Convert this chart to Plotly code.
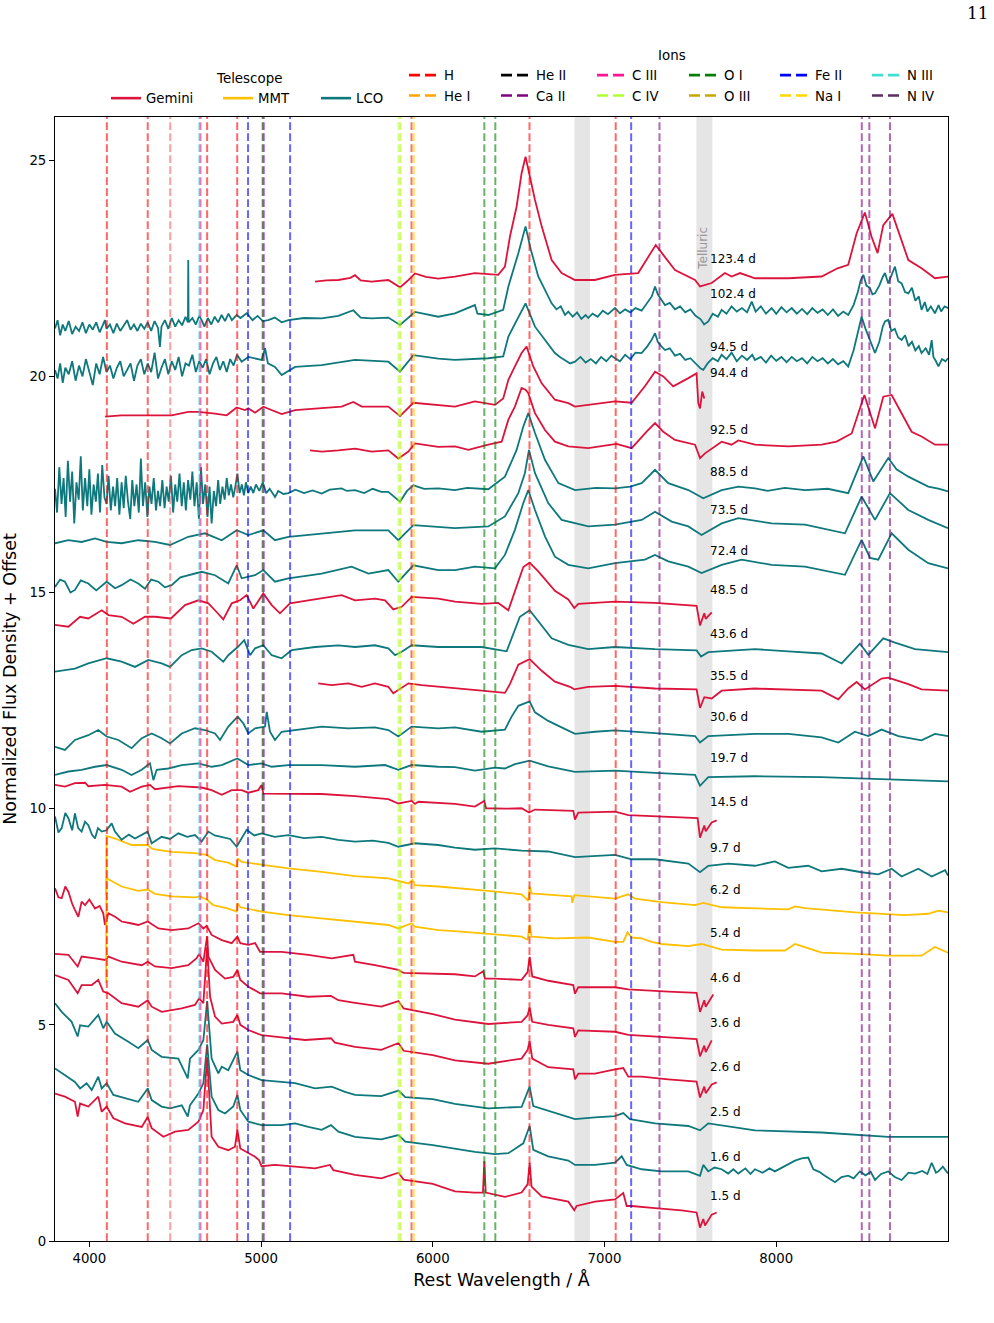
import plotly.graph_objects as go

# ------------------------------------------------------------------ data
# each spectrum: list of (rest wavelength [A], normalized flux density + offset)
sp_1_5 = [(3800,3.41),(3858,3.34),(3916,3.22),(3932,2.88),(3946,3.18),(3994,3.11),(4052,3.34),(4072,2.99),(4101,3.11),(4140,2.84),(4208,2.72),(4305,2.64),(4340,2.87),(4363,2.61),(4431,2.41),(4499,2.53),(4576,2.57),(4635,2.76),(4664,3.03),(4686,4.25),(4712,2.41),(4751,2.18),(4809,2.10),(4848,2.18),(4862,2.57),(4879,2.14),(4965,1.95),(4988,1.87),(5003,1.73),(5081,1.76),(5198,1.72),(5314,1.68),(5401,1.76),(5421,1.64),(5547,1.53),(5700,1.45),(5800,1.58),(5830,1.42),(6000,1.32),(6129,1.15),(6245,1.12),(6292,1.12),(6300,1.85),(6308,1.12),(6420,1.02),(6517,1.12),(6552,1.31),(6564,1.81),(6575,1.26),(6634,1.03),(6789,0.91),(6824,0.71),(6837,0.81),(6944,0.91),(7061,0.96),(7109,1.11),(7129,0.81),(7158,0.81),(7294,0.76),(7449,0.71),(7536,0.66),(7556,0.31),(7575,0.51),(7585,0.36),(7624,0.61),(7653,0.66)]
sp_1_6 = [(3800,3.99),(3858,3.84),(3916,3.68),(3946,3.53),(3984,3.65),(4014,3.49),(4052,3.80),(4072,3.53),(4101,3.65),(4140,3.38),(4208,3.30),(4285,3.22),(4340,3.53),(4363,3.26),(4421,3.11),(4470,3.07),(4538,3.14),(4573,2.88),(4586,3.14),(4635,3.41),(4664,3.65),(4686,4.55),(4712,3.34),(4751,3.03),(4790,2.95),(4838,3.11),(4862,3.38),(4879,3.03),(4926,2.76),(5003,2.68),(5120,2.68),(5198,2.72),(5275,2.64),(5353,2.57),(5407,2.68),(5450,2.53),(5547,2.41),(5700,2.35),(5800,2.45),(5840,2.30),(6000,2.22),(6129,2.13),(6245,2.06),(6362,2.01),(6440,2.03),(6527,2.26),(6564,2.66),(6585,2.11),(6672,1.96),(6789,1.86),(6828,1.76),(6944,1.76),(7061,1.81),(7100,1.96),(7129,1.76),(7216,1.66),(7332,1.61),(7488,1.61),(7556,1.51),(7575,1.76),(7604,1.61),(7640,1.70),(7682,1.66),(7720,1.56),(7750,1.66),(7779,1.56),(7820,1.68),(7850,1.55),(7876,1.66),(7920,1.58),(7960,1.68),(7992,1.61),(8040,1.72),(8080,1.80),(8109,1.86),(8148,1.91),(8186,1.93),(8216,1.66),(8250,1.60),(8283,1.51),(8310,1.45),(8342,1.36),(8380,1.48),(8419,1.51),(8450,1.45),(8487,1.61),(8520,1.52),(8550,1.60),(8575,1.41),(8610,1.55),(8652,1.61),(8690,1.48),(8730,1.41),(8770,1.58),(8808,1.56),(8850,1.62),(8880,1.55),(8905,1.81),(8930,1.58),(8944,1.61),(8970,1.72),(9000,1.56)]
sp_2_5 = [(3800,5.50),(3839,5.30),(3897,5.07),(3932,4.73),(3946,4.99),(3994,4.96),(4052,5.23),(4081,4.92),(4101,5.07),(4149,4.80),(4227,4.61),(4285,4.46),(4340,4.65),(4363,4.42),(4421,4.26),(4518,4.22),(4573,3.76),(4586,4.22),(4635,4.42),(4664,4.65),(4686,5.55),(4712,4.22),(4751,3.88),(4771,4.03),(4809,3.95),(4862,4.38),(4879,3.95),(4926,3.84),(5003,3.72),(5120,3.68),(5198,3.65),(5314,3.53),(5411,3.57),(5489,3.45),(5547,3.38),(5700,3.35),(5800,3.48),(5840,3.33),(6000,3.28),(6129,3.17),(6323,3.07),(6517,3.10),(6564,3.57),(6585,3.12),(6711,2.96),(6828,2.82),(6944,2.86),(7061,2.89),(7109,2.96),(7148,2.82),(7294,2.72),(7488,2.66),(7556,2.56),(7604,2.72),(7876,2.56),(8264,2.51),(8652,2.41),(9000,2.41)]
sp_2_6 = [(3800,6.15),(3878,6.04),(3932,5.73),(3955,5.92),(4014,5.92),(4052,6.04),(4081,5.77),(4111,5.73),(4188,5.50),(4285,5.42),(4340,5.57),(4363,5.42),(4421,5.30),(4538,5.38),(4615,5.46),(4639,5.61),(4664,5.50),(4686,6.80),(4703,5.65),(4732,5.19),(4771,5.03),(4838,5.07),(4862,5.23),(4879,5.00),(4926,4.88),(5003,4.76),(5120,4.71),(5256,4.65),(5407,4.69),(5430,4.59),(5547,4.49),(5700,4.42),(5800,4.58),(5830,4.40),(6000,4.30),(6129,4.18),(6323,4.10),(6517,4.22),(6552,4.42),(6564,4.62),(6579,4.22),(6672,4.02),(6818,3.97),(6828,3.74),(6847,3.87),(6944,3.87),(7061,3.97),(7109,4.00),(7138,3.80),(7216,3.80),(7371,3.74),(7536,3.69),(7556,3.32),(7581,3.57),(7589,3.42),(7624,3.62),(7653,3.67)]
sp_3_6 = [(3800,6.64),(3878,6.62),(3932,6.35),(3955,6.58),(4033,6.54),(4091,6.50),(4111,6.58),(4188,6.46),(4305,6.38),(4340,6.46),(4382,6.35),(4479,6.31),(4576,6.38),(4625,6.54),(4639,6.64),(4664,6.46),(4686,7.05),(4693,6.58),(4732,6.27),(4790,6.07),(4838,6.11),(4862,6.27),(4879,6.04),(4926,5.88),(4955,5.82),(4994,5.73),(5120,5.73),(5275,5.65),(5407,5.67),(5450,5.57),(5547,5.51),(5700,5.42),(5800,5.55),(5830,5.38),(6000,5.25),(6129,5.12),(6323,5.02),(6517,5.07),(6552,5.22),(6564,5.40),(6579,5.07),(6672,5.00),(6818,4.92),(6828,4.72),(6847,4.87),(7061,4.84),(7138,4.77),(7371,4.72),(7536,4.67),(7556,4.27),(7581,4.52),(7589,4.37),(7624,4.64)]
sp_4_6 = [(3800,8.16),(3820,7.95),(3839,7.93),(3860,8.20),(3878,8.08),(3900,7.80),(3916,7.66),(3936,7.50),(3955,7.85),(3975,7.77),(4000,7.90),(4033,7.69),(4060,7.75),(4081,7.58),(4091,7.31),(4111,7.58),(4150,7.50),(4188,7.39),(4240,7.35),(4285,7.31),(4340,7.39),(4402,7.23),(4479,7.19),(4576,7.23),(4635,7.35),(4664,7.23),(4683,7.29),(4712,7.08),(4771,6.96),(4829,6.89),(4862,7.04),(4879,6.89),(4926,6.85),(4965,6.89),(4994,6.69),(5120,6.69),(5275,6.62),(5411,6.54),(5537,6.62),(5547,6.46),(5663,6.38),(5741,6.31),(5800,6.27),(5830,6.20),(6000,6.18),(6129,6.17),(6245,6.12),(6294,6.24),(6304,6.07),(6362,6.07),(6517,6.04),(6552,6.22),(6564,6.57),(6579,6.12),(6672,6.02),(6818,5.92),(6828,5.72),(6847,5.87),(7061,5.87),(7138,5.82),(7371,5.77),(7536,5.74),(7556,5.30),(7581,5.57),(7589,5.42),(7633,5.70)]
sp_5_4 = [(4098,5.97),(4100,8.39),(4188,8.20),(4285,8.10),(4340,8.13),(4382,8.03),(4479,7.97),(4615,7.95),(4644,7.97),(4683,7.90),(4722,7.77),(4809,7.69),(4858,7.62),(4864,7.81),(4879,7.72),(5003,7.62),(5159,7.54),(5353,7.46),(5547,7.39),(5741,7.31),(5799,7.23),(5877,7.35),(5896,7.27),(6032,7.19),(6129,7.17),(6323,7.10),(6517,7.04),(6552,6.97),(6564,7.32),(6575,7.04),(6711,7.00),(6905,7.02),(7061,6.92),(7109,6.92),(7134,7.14),(7158,7.02),(7216,7.00),(7274,6.92),(7332,6.87),(7488,6.82),(7565,6.87),(7682,6.74),(7876,6.72),(8051,6.72),(8109,6.87),(8148,6.82),(8186,6.77),(8264,6.67),(8458,6.64),(8652,6.60),(8846,6.60),(8924,6.80),(9000,6.67)]
sp_6_2 = [(4098,8.00),(4100,9.37),(4149,9.31),(4246,9.16),(4340,9.16),(4363,9.08),(4382,9.06),(4479,9.00),(4615,8.97),(4683,8.93),(4732,8.81),(4809,8.75),(4858,8.66),(4864,8.85),(4887,8.77),(5003,8.70),(5159,8.62),(5353,8.54),(5547,8.44),(5741,8.39),(5858,8.27),(5881,8.35),(5896,8.23),(6032,8.20),(6129,8.17),(6323,8.10),(6517,8.02),(6556,7.87),(6564,8.20),(6575,8.04),(6711,8.00),(6808,7.97),(6812,7.82),(6824,8.00),(7061,7.92),(7138,8.02),(7177,7.92),(7332,7.84),(7527,7.77),(7575,7.82),(7682,7.72),(8070,7.67),(8109,7.74),(8167,7.70),(8458,7.60),(8749,7.54),(8885,7.57),(8944,7.64),(9000,7.60)]
sp_9_7 = [(3800,9.82),(3820,9.45),(3839,9.55),(3860,9.90),(3878,9.78),(3900,9.50),(3916,9.89),(3935,9.55),(3955,9.47),(3975,9.70),(3994,9.62),(4015,9.40),(4033,9.31),(4050,9.55),(4072,9.47),(4100,9.50),(4130,9.66),(4149,9.47),(4188,9.28),(4230,9.40),(4266,9.31),(4300,9.38),(4340,9.47),(4363,9.20),(4421,9.35),(4470,9.30),(4518,9.43),(4570,9.35),(4615,9.39),(4654,9.24),(4693,9.47),(4730,9.38),(4771,9.35),(4820,9.30),(4858,9.12),(4916,9.51),(4960,9.38),(5003,9.43),(5080,9.35),(5159,9.39),(5250,9.32),(5353,9.35),(5450,9.28),(5547,9.24),(5650,9.26),(5741,9.21),(5799,9.12),(5896,9.20),(6032,9.16),(6129,9.10),(6245,9.05),(6362,9.08),(6517,9.03),(6672,9.01),(6828,8.88),(6944,8.91),(7061,8.93),(7158,8.83),(7294,8.83),(7488,8.73),(7556,8.53),(7604,8.68),(7721,8.73),(7876,8.68),(7992,8.78),(8070,8.63),(8186,8.68),(8264,8.55),(8381,8.61),(8497,8.53),(8594,8.48),(8672,8.61),(8730,8.43),(8827,8.61),(8905,8.43),(8983,8.58),(9000,8.45)]
sp_14_5 = [(3800,10.55),(3858,10.51),(3916,10.59),(3975,10.60),(3994,10.52),(4091,10.55),(4188,10.51),(4237,10.39),(4305,10.51),(4353,10.55),(4382,10.45),(4518,10.52),(4654,10.49),(4712,10.43),(4771,10.32),(4829,10.43),(4887,10.43),(4926,10.37),(4984,10.43),(5003,10.55),(5013,10.35),(5159,10.35),(5353,10.34),(5547,10.29),(5741,10.22),(5799,10.12),(5877,10.18),(5896,10.11),(5916,10.16),(6129,10.11),(6245,10.05),(6300,10.18),(6310,10.01),(6420,10.00),(6517,10.01),(6560,9.91),(6595,9.98),(6818,9.95),(6828,9.75),(6847,9.91),(7061,9.93),(7138,9.85),(7371,9.81),(7542,9.78),(7556,9.33),(7581,9.61),(7589,9.48),(7624,9.68),(7653,9.73)]
sp_19_7 = [(3800,10.78),(3878,10.86),(3955,10.90),(4033,10.97),(4101,11.01),(4188,10.90),(4246,10.78),(4305,10.90),(4353,11.05),(4373,10.66),(4392,10.90),(4460,10.93),(4538,11.01),(4635,11.05),(4712,10.97),(4771,11.01),(4862,11.16),(4926,11.01),(5003,11.05),(5062,10.97),(5159,11.01),(5353,11.01),(5547,10.97),(5722,11.01),(5799,10.90),(5877,11.01),(6032,10.97),(6129,10.96),(6245,10.88),(6362,10.95),(6420,10.93),(6478,11.03),(6564,11.11),(6672,10.98),(6828,10.85),(7061,10.88),(7294,10.83),(7527,10.78),(7556,10.53),(7604,10.73),(7876,10.75),(8264,10.73),(8652,10.68),(9000,10.63)]
sp_30_6 = [(3800,11.43),(3858,11.36),(3916,11.59),(3994,11.70),(4052,11.82),(4101,11.67),(4169,11.59),(4246,11.40),(4305,11.63),(4363,11.74),(4421,11.63),(4470,11.51),(4538,11.74),(4615,11.86),(4673,11.82),(4732,11.74),(4761,11.59),(4809,11.90),(4864,12.13),(4897,11.97),(4926,11.74),(4965,11.86),(5023,11.90),(5033,12.24),(5052,11.78),(5081,11.59),(5120,11.78),(5256,11.86),(5353,11.90),(5508,11.86),(5663,11.88),(5741,11.82),(5799,11.67),(5877,11.90),(6032,11.86),(6129,11.88),(6284,11.78),(6420,11.83),(6459,12.13),(6498,12.38),(6564,12.48),(6595,12.23),(6672,12.03),(6750,11.88),(6828,11.73),(6944,11.78),(7061,11.81),(7294,11.75),(7527,11.68),(7556,11.53),(7604,11.68),(7876,11.73),(8070,11.73),(8264,11.65),(8361,11.53),(8458,11.78),(8536,11.68),(8613,11.83),(8711,11.68),(8846,11.58),(8924,11.73),(9000,11.68)]
sp_35_5 = [(5333,12.90),(5411,12.86),(5508,12.90),(5586,12.82),(5663,12.90),(5741,12.82),(5770,12.67),(5799,12.74),(5858,12.90),(5935,12.86),(6129,12.78),(6284,12.73),(6420,12.68),(6449,12.88),(6498,13.33),(6564,13.46),(6634,13.19),(6711,12.94),(6799,12.82),(6824,12.76),(6905,12.82),(7061,12.84),(7294,12.78),(7536,12.76),(7556,12.33),(7581,12.58),(7624,12.55),(7682,12.73),(7876,12.78),(8070,12.76),(8264,12.73),(8361,12.53),(8419,12.78),(8468,12.93),(8516,12.76),(8613,13.01),(8652,13.03),(8769,12.88),(8846,12.76),(9000,12.73)]
sp_43_6 = [(3800,13.17),(3878,13.21),(3916,13.24),(3994,13.36),(4101,13.48),(4188,13.40),(4266,13.28),(4343,13.44),(4421,13.36),(4470,13.28),(4538,13.55),(4596,13.67),(4654,13.71),(4712,13.63),(4780,13.40),(4809,13.55),(4864,13.74),(4902,13.90),(4936,13.55),(4965,13.71),(5013,13.78),(5062,13.55),(5120,13.48),(5178,13.67),(5314,13.74),(5450,13.78),(5547,13.74),(5663,13.78),(5741,13.71),(5780,13.55),(5819,13.63),(5877,13.78),(6032,13.74),(6129,13.74),(6284,13.74),(6430,13.64),(6469,14.04),(6507,14.44),(6564,14.59),(6614,14.34),(6692,13.94),(6789,13.79),(6905,13.69),(7061,13.74),(7294,13.69),(7536,13.66),(7562,13.52),(7604,13.62),(7876,13.69),(8070,13.64),(8264,13.59),(8381,13.36),(8487,13.82),(8536,13.56),(8623,13.94),(8691,13.84),(8808,13.69),(9000,13.62)]
sp_48_5 = [(3800,14.25),(3878,14.21),(3946,14.44),(3994,14.40),(4072,14.59),(4111,14.48),(4188,14.44),(4256,14.28),(4324,14.44),(4382,14.44),(4475,14.40),(4557,14.71),(4635,14.82),(4693,14.75),(4741,14.55),(4780,14.38),(4829,14.75),(4877,14.82),(4916,14.94),(4955,14.63),(5013,14.98),(5062,14.71),(5110,14.52),(5168,14.75),(5275,14.82),(5392,14.90),(5469,14.94),(5547,14.82),(5663,14.86),(5722,14.82),(5770,14.61),(5819,14.67),(5877,14.90),(6032,14.86),(6129,14.79),(6284,14.74),(6381,14.76),(6440,14.59),(6488,15.14),(6527,15.59),(6564,15.69),(6614,15.49),(6711,15.04),(6789,14.84),(6824,14.64),(6847,14.74),(7061,14.79),(7294,14.76),(7536,14.69),(7556,14.24),(7581,14.52),(7589,14.39),(7624,14.54)]
sp_72_4 = [(3800,15.13),(3830,15.30),(3858,15.25),(3890,15.00),(3916,15.06),(3950,15.28),(3994,15.21),(4040,15.05),(4101,15.25),(4150,15.10),(4188,15.17),(4240,15.30),(4285,15.21),(4324,15.09),(4360,15.30),(4402,15.25),(4440,15.12),(4479,15.17),(4530,15.35),(4576,15.40),(4654,15.48),(4732,15.40),(4809,15.21),(4858,15.63),(4887,15.33),(4965,15.40),(5013,15.52),(5081,15.25),(5159,15.33),(5353,15.44),(5527,15.60),(5625,15.44),(5741,15.52),(5799,15.25),(5887,15.63),(6032,15.52),(6129,15.52),(6245,15.60),(6362,15.56),(6420,15.87),(6478,16.45),(6527,17.07),(6556,17.37),(6595,16.91),(6653,16.30),(6711,15.83),(6789,15.64),(6905,15.56),(7061,15.68),(7235,15.76),(7294,15.87),(7371,15.72),(7488,15.60),(7565,15.45),(7682,15.64),(7798,15.76),(7973,15.64),(8167,15.60),(8400,15.41),(8497,16.22),(8546,15.80),(8594,15.76),(8672,16.37),(8769,15.99),(8885,15.68),(9000,15.56)]
sp_73_5 = [(3800,16.14),(3878,16.21),(3955,16.17),(4033,16.25),(4101,16.17),(4188,16.14),(4285,16.21),(4382,16.17),(4470,16.10),(4576,16.29),(4673,16.37),(4771,16.21),(4858,16.44),(4926,16.33),(5013,16.44),(5081,16.21),(5159,16.29),(5353,16.37),(5547,16.44),(5741,16.44),(5799,16.21),(5887,16.56),(6032,16.52),(6129,16.49),(6323,16.53),(6420,16.76),(6498,17.30),(6536,17.76),(6560,18.30),(6595,17.76),(6672,17.07),(6750,16.68),(6905,16.53),(7061,16.57),(7216,16.68),(7294,16.87),(7391,16.64),(7488,16.53),(7565,16.33),(7682,16.60),(7779,16.72),(7973,16.60),(8167,16.57),(8400,16.37),(8497,17.22),(8575,16.68),(8662,17.30),(8769,16.91),(8885,16.68),(9000,16.49)]
sp_88_5 = [(3800,17.40),(3812,16.85),(3825,17.90),(3838,17.05),(3850,17.65),(3862,16.75),(3875,18.05),(3888,17.10),(3900,17.80),(3912,16.60),(3925,17.55),(3938,17.15),(3950,18.15),(3962,16.90),(3975,17.65),(3988,17.00),(4000,17.85),(4012,16.80),(4025,17.50),(4038,17.10),(4050,17.75),(4062,16.85),(4075,17.95),(4088,17.20),(4100,17.05),(4112,17.70),(4125,16.90),(4138,17.45),(4150,17.00),(4162,17.65),(4175,16.80),(4188,17.55),(4200,16.95),(4212,17.70),(4225,17.10),(4238,16.70),(4250,17.60),(4262,17.00),(4275,17.50),(4288,16.85),(4300,18.10),(4312,17.00),(4325,17.55),(4338,16.75),(4350,17.45),(4362,17.05),(4375,17.65),(4388,16.90),(4400,17.35),(4412,17.00),(4425,17.60),(4438,16.95),(4450,17.45),(4462,17.10),(4475,17.70),(4488,16.85),(4500,17.50),(4512,17.10),(4525,17.75),(4538,17.00),(4550,17.55),(4562,16.90),(4575,17.60),(4588,17.15),(4600,17.80),(4612,17.00),(4625,17.55),(4638,16.70),(4650,17.90),(4662,17.05),(4675,17.50),(4688,16.75),(4700,17.45),(4712,16.60),(4725,17.35),(4738,17.00),(4750,17.60),(4762,17.05),(4775,17.45),(4788,17.15),(4800,17.65),(4812,17.25),(4825,17.50),(4838,17.20),(4850,17.45),(4862,17.75),(4875,17.30),(4888,17.50),(4900,17.25),(4912,17.55),(4925,17.30),(4940,17.45),(4955,17.30),(4970,17.50),(4990,17.35),(5010,17.55),(5030,17.30),(5050,17.40),(5081,17.21),(5100,17.35),(5130,17.28),(5159,17.30),(5200,17.38),(5250,17.30),(5300,17.36),(5353,17.29),(5400,17.38),(5469,17.41),(5500,17.35),(5547,17.37),(5600,17.30),(5650,17.40),(5700,17.33),(5741,17.33),(5809,17.10),(5850,17.35),(5887,17.48),(5950,17.40),(6032,17.41),(6129,17.37),(6200,17.42),(6323,17.39),(6420,17.68),(6488,18.30),(6527,18.84),(6556,19.15),(6595,18.69),(6653,18.07),(6731,17.53),(6828,17.37),(6950,17.42),(7061,17.41),(7150,17.45),(7216,17.53),(7294,17.84),(7371,17.53),(7488,17.37),(7575,17.18),(7682,17.37),(7780,17.45),(7876,17.41),(7950,17.35),(8050,17.42),(8167,17.37),(8300,17.40),(8419,17.30),(8507,18.15),(8565,17.57),(8652,18.11),(8700,17.85),(8769,17.68),(8830,17.55),(8885,17.45),(8950,17.40),(9000,17.34)]
sp_92_5 = [(5285,18.29),(5353,18.26),(5450,18.29),(5547,18.33),(5644,18.26),(5741,18.29),(5799,18.10),(5858,18.26),(5896,18.45),(6032,18.37),(6129,18.38),(6207,18.30),(6323,18.42),(6401,18.49),(6440,19.00),(6478,19.30),(6517,19.73),(6540,19.69),(6556,19.61),(6595,19.15),(6653,18.76),(6711,18.49),(6789,18.38),(6905,18.34),(7070,18.44),(7158,18.34),(7245,18.72),(7294,18.92),(7342,18.72),(7410,18.53),(7527,18.42),(7556,18.11),(7585,18.22),(7682,18.49),(7740,18.42),(7779,18.52),(7876,18.42),(8070,18.38),(8264,18.42),(8351,18.49),(8439,18.68),(8513,19.57),(8575,18.80),(8623,19.53),(8672,19.57),(8730,19.15),(8788,18.72),(8846,18.61),(8924,18.42),(9000,18.42)]
sp_94_4 = [(4091,19.07),(4188,19.10),(4340,19.10),(4479,19.10),(4576,19.18),(4635,19.18),(4732,19.14),(4800,19.10),(4858,19.28),(4906,19.22),(4926,19.26),(4965,19.16),(5013,19.30),(5081,19.18),(5120,19.13),(5198,19.22),(5353,19.26),(5469,19.30),(5537,19.41),(5586,19.30),(5741,19.30),(5809,19.08),(5887,19.39),(6032,19.34),(6129,19.30),(6245,19.42),(6362,19.34),(6410,19.49),(6440,19.92),(6478,20.23),(6517,20.54),(6546,20.69),(6585,20.23),(6634,19.84),(6711,19.46),(6789,19.38),(6828,19.30),(7061,19.42),(7158,19.39),(7235,19.77),(7294,20.11),(7342,20.00),(7400,19.77),(7488,19.96),(7536,20.07),(7546,19.38),(7556,19.26),(7569,19.65),(7581,19.49)]
sp_94_5 = [(3800,20.15),(3815,19.95),(3830,20.30),(3845,19.85),(3860,20.20),(3880,20.05),(3900,20.35),(3920,19.90),(3940,20.25),(3960,20.00),(3980,20.40),(4000,20.10),(4020,19.80),(4040,20.30),(4060,20.05),(4080,20.45),(4100,20.10),(4120,20.25),(4140,19.95),(4160,20.20),(4180,20.35),(4200,20.00),(4220,20.15),(4240,20.30),(4260,19.90),(4280,20.25),(4300,20.40),(4320,20.05),(4340,20.30),(4360,20.10),(4380,20.55),(4400,19.95),(4420,20.20),(4440,20.40),(4460,20.05),(4480,20.35),(4500,20.15),(4520,20.45),(4540,20.00),(4560,20.30),(4580,20.25),(4600,20.50),(4620,20.10),(4640,20.35),(4660,20.20),(4680,20.40),(4700,20.05),(4720,20.30),(4740,20.45),(4760,20.15),(4780,20.35),(4800,20.10),(4820,20.40),(4840,20.25),(4860,20.50),(4887,20.34),(4926,20.45),(5003,20.38),(5023,20.65),(5040,20.30),(5081,20.22),(5120,20.03),(5198,20.22),(5353,20.26),(5547,20.38),(5741,20.34),(5809,20.11),(5887,20.49),(6032,20.41),(6129,20.38),(6323,20.42),(6410,20.46),(6440,20.92),(6498,21.38),(6540,21.69),(6595,21.15),(6653,20.84),(6711,20.54),(6740,20.45),(6770,20.38),(6800,20.30),(6828,20.34),(6860,20.45),(6890,20.32),(6920,20.40),(6950,20.30),(6980,20.45),(7010,20.35),(7040,20.48),(7061,20.42),(7090,20.35),(7120,20.50),(7150,20.40),(7180,20.55),(7216,20.54),(7250,20.70),(7275,20.85),(7294,21.00),(7310,20.80),(7330,20.70),(7352,20.61),(7380,20.65),(7410,20.48),(7440,20.52),(7470,20.38),(7500,20.42),(7530,20.30),(7560,20.18),(7575,20.15),(7600,20.30),(7630,20.42),(7660,20.35),(7682,20.50),(7710,20.40),(7740,20.55),(7770,20.35),(7800,20.48),(7830,20.38),(7860,20.50),(7876,20.38),(7910,20.45),(7940,20.32),(7970,20.48),(8000,20.36),(8030,20.45),(8060,20.33),(8090,20.45),(8120,20.35),(8150,20.42),(8180,20.30),(8210,20.45),(8240,20.35),(8270,20.42),(8300,20.30),(8330,20.40),(8360,20.28),(8390,20.35),(8419,20.23),(8450,20.60),(8475,21.05),(8497,21.38),(8520,21.10),(8545,20.85),(8575,20.54),(8600,20.80),(8620,21.15),(8633,21.27),(8652,21.31),(8670,21.05),(8690,21.10),(8710,20.90),(8730,20.84),(8750,20.95),(8770,20.70),(8790,20.80),(8810,20.60),(8830,20.70),(8846,20.54),(8870,20.65),(8890,20.50),(8905,20.84),(8915,20.45),(8930,20.35),(8944,20.23),(8965,20.40),(8985,20.35),(9000,20.42)]
sp_102_4 = [(3800,21.11),(3815,21.30),(3830,20.95),(3845,21.20),(3860,21.05),(3880,21.28),(3900,20.98),(3920,21.15),(3940,21.05),(3960,21.25),(3980,21.00),(4000,21.20),(4020,21.08),(4040,21.25),(4060,21.02),(4080,21.18),(4091,21.30),(4100,21.10),(4120,21.20),(4140,21.00),(4160,21.22),(4180,21.05),(4200,21.18),(4220,21.30),(4240,21.08),(4260,21.20),(4280,21.05),(4300,21.22),(4320,21.10),(4340,21.25),(4360,21.05),(4380,21.28),(4400,21.12),(4411,20.68),(4420,21.15),(4440,21.30),(4460,21.10),(4480,21.35),(4500,21.15),(4520,21.30),(4540,21.18),(4560,21.38),(4574,21.25),(4576,22.69),(4578,21.25),(4600,21.35),(4620,21.20),(4640,21.40),(4654,21.30),(4670,21.15),(4690,21.35),(4710,21.20),(4730,21.38),(4750,21.25),(4770,21.42),(4790,21.28),(4810,21.45),(4830,21.30),(4858,21.42),(4880,21.35),(4916,21.46),(4950,21.30),(4980,21.40),(5010,21.28),(5042,21.30),(5080,21.36),(5120,21.25),(5159,21.30),(5250,21.35),(5353,21.34),(5450,21.40),(5537,21.53),(5580,21.36),(5644,21.34),(5741,21.36),(5809,21.19),(5896,21.49),(6032,21.38),(6129,21.46),(6245,21.65),(6260,21.45),(6323,21.42),(6410,21.54),(6440,22.08),(6498,22.85),(6540,23.47),(6571,22.93),(6614,22.31),(6692,21.69),(6720,21.55),(6745,21.62),(6770,21.42),(6789,21.50),(6815,21.38),(6840,21.48),(6865,21.33),(6890,21.42),(6905,21.35),(6930,21.45),(6960,21.38),(6990,21.52),(7020,21.44),(7061,21.58),(7090,21.46),(7120,21.55),(7150,21.48),(7180,21.58),(7216,21.52),(7250,21.70),(7275,21.85),(7294,22.08),(7310,21.90),(7330,21.78),(7352,21.65),(7380,21.70),(7410,21.55),(7440,21.62),(7470,21.48),(7500,21.55),(7530,21.40),(7560,21.32),(7580,21.20),(7604,21.27),(7630,21.45),(7660,21.38),(7682,21.54),(7710,21.45),(7740,21.62),(7770,21.50),(7800,21.58),(7830,21.48),(7857,21.73),(7880,21.50),(7910,21.62),(7940,21.45),(7973,21.58),(8000,21.45),(8030,21.60),(8060,21.48),(8090,21.58),(8120,21.45),(8150,21.56),(8180,21.44),(8210,21.58),(8240,21.47),(8270,21.55),(8300,21.42),(8330,21.55),(8360,21.40),(8390,21.50),(8419,21.42),(8450,21.65),(8475,21.95),(8490,22.20),(8507,22.35),(8525,22.10),(8545,22.05),(8560,21.90),(8575,21.92),(8600,22.10),(8620,22.30),(8633,22.39),(8652,22.15),(8670,22.35),(8691,22.54),(8710,22.20),(8730,22.15),(8750,21.95),(8769,21.92),(8790,22.05),(8810,21.75),(8830,21.85),(8846,21.54),(8865,21.72),(8880,21.50),(8900,21.62),(8924,21.46),(8945,21.65),(8960,21.50),(8980,21.62),(9000,21.58)]
sp_123_4 = [(5314,22.19),(5380,22.22),(5450,22.23),(5520,22.28),(5547,22.34),(5580,22.22),(5644,22.19),(5741,22.23),(5809,22.06),(5850,22.20),(5896,22.38),(5960,22.30),(6032,22.26),(6129,22.31),(6245,22.39),(6381,22.35),(6420,22.54),(6449,23.23),(6488,23.93),(6517,24.70),(6540,25.08),(6566,24.62),(6595,24.08),(6634,23.47),(6692,22.69),(6750,22.39),(6828,22.23),(6944,22.23),(7061,22.35),(7196,22.39),(7255,22.77),(7298,23.04),(7342,22.81),(7410,22.46),(7527,22.23),(7556,22.08),(7624,22.16),(7701,22.39),(7740,22.31),(7789,22.39),(7876,22.27),(8070,22.27),(8264,22.31),(8357,22.50),(8419,22.58),(8468,23.31),(8516,23.79),(8555,23.23),(8590,22.85),(8623,23.50),(8676,23.76),(8730,23.16),(8769,22.69),(8846,22.50),(8924,22.27),(9000,22.31)]

epochs = ["1.5 d", "1.6 d", "2.5 d", "2.6 d", "3.6 d", "4.6 d", "5.4 d", "6.2 d", "9.7 d", "14.5 d", "19.7 d", "30.6 d",
          "35.5 d", "43.6 d", "48.5 d", "72.4 d", "73.5 d", "88.5 d", "92.5 d", "94.4 d", "94.5 d", "102.4 d", "123.4 d"]
telescopes = ["Gemini", "LCO", "LCO", "Gemini", "Gemini", "Gemini", "MMT", "MMT", "LCO", "Gemini", "LCO", "LCO",
              "Gemini", "LCO", "Gemini", "LCO", "LCO", "LCO", "Gemini", "Gemini", "LCO", "LCO", "Gemini"]
spectra = [sp_1_5, sp_1_6, sp_2_5, sp_2_6, sp_3_6, sp_4_6, sp_5_4, sp_6_2, sp_9_7, sp_14_5, sp_19_7, sp_30_6,
           sp_35_5, sp_43_6, sp_48_5, sp_72_4, sp_73_5, sp_88_5, sp_92_5, sp_94_4, sp_94_5, sp_102_4, sp_123_4]
label_y = [1.04, 1.94, 2.99, 4.03, 5.05, 6.09, 7.13, 8.13, 9.10, 10.16, 11.18, 12.11,
           13.08, 14.05, 15.05, 15.97, 16.92, 17.78, 18.77, 20.07, 20.69, 21.90, 22.71]
label_x = 7600

# ion line identifications (rest wavelength, ion)
ion_lines = [(4102, "H"), (4340, "H"), (4471, "He I"), (4640, "N III"), (4647, "C III"), (4686, "He II"),
             (4861, "H"), (4924, "Fe II"), (5007, "O III"), (5012, "He II"), (5018, "Fe II"), (5169, "Fe II"),
             (5801, "C IV"), (5812, "C IV"), (5876, "He I"), (5890, "Na I"), (6300, "O I"), (6364, "O I"),
             (6563, "H"), (7065, "He I"), (7155, "Fe II"), (7320, "Ca II"), (8498, "Ca II"), (8542, "Ca II"), (8662, "Ca II")]
telluric_bands = [(6825, 6915), (7535, 7628)]

telescope_order = ["Gemini", "MMT", "LCO"]
ion_columns = [["H", "He I"], ["He II", "Ca II"], ["C III", "C IV"], ["O I", "O III"], ["Fe II", "Na I"], ["N III", "N IV"]]

# ------------------------------------------------------------------ style
TEL_COLORS = {"Gemini": "#dc143c", "MMT": "#ffc000", "LCO": "#0e787c"}
ION_COLORS = {"H": "#ff0000", "He I": "#ffa500", "He II": "#000000", "Ca II": "#800080", "C III": "#ff1493",
              "C IV": "#adff2f", "O I": "#008000", "O III": "#c8a800", "Fe II": "#0000ff", "Na I": "#ffd700",
              "N III": "#40e0d0", "N IV": "#5e2d62"}
# colour each marker is drawn with in the panel
MARK_COLORS = {4102: "255,0,0", 4340: "255,0,0", 4471: "255,40,40", 4640: "64,224,208", 4647: "255,20,147",
               4686: "255,0,0", 4861: "255,0,0", 4924: "0,0,255", 5007: "60,120,0", 5012: "0,0,0",
               5018: "100,0,220", 5169: "0,0,255", 5801: "173,255,47", 5812: "190,240,0", 5876: "240,20,10",
               5890: "255,215,0", 6300: "0,128,0", 6364: "0,128,0", 6563: "255,0,0", 7065: "255,0,0",
               7155: "0,0,255", 7320: "128,0,128", 8498: "128,0,128", 8542: "128,0,128", 8662: "128,0,128"}
MARK_ALPHA = {4471: 0.45, 5007: 0.5, 5012: 0.5, 5018: 0.5}
MARK_WIDTH = {5007: 1.5, 5012: 1.5, 5018: 1.5}
FONT = "DejaVu Sans"

W, H = 994, 1323
ML, MR, MT, MB = 55, 46, 117, 82
PW, PH = W - ML - MR, H - MT - MB


def px(xp):
    return (xp - ML) / PW


def py(yp):
    return (H - MB - yp) / PH


fig = go.Figure()

for lab, tel, pts in zip(epochs, telescopes, spectra):
    fig.add_trace(go.Scatter(x=[p[0] for p in pts], y=[p[1] for p in pts], mode="lines",
                             line=dict(color=TEL_COLORS[tel], width=1.8), showlegend=False,
                             hoverinfo="skip", name=lab))

# legend entries (one legend box per telescope / per ion column)
tel_legend_keys = ["legend", "legend8", "legend9"]
for tel, key in zip(telescope_order, tel_legend_keys):
    fig.add_trace(go.Scatter(x=[None], y=[None], mode="lines", name=tel,
                             line=dict(color=TEL_COLORS[tel], width=2.6), legend=key))
for ci, col in enumerate(ion_columns):
    for ion in col:
        fig.add_trace(go.Scatter(x=[None], y=[None], mode="lines", name=ion,
                                 line=dict(color=ION_COLORS[ion], width=2.6, dash="11px,5px"),
                                 legend=f"legend{ci + 2}"))

shapes = []
for a, b in telluric_bands:
    shapes.append(dict(type="rect", xref="x", yref="paper", x0=a, x1=b, y0=0, y1=1,
                       fillcolor="#e5e5e5", line=dict(width=0), layer="below"))
for wl, ion in ion_lines:
    al = MARK_ALPHA.get(wl, 0.6)
    shapes.append(dict(type="line", xref="x", yref="paper", x0=wl, x1=wl, y0=0, y1=1,
                       line=dict(color=f"rgba({MARK_COLORS[wl]},{al})", width=MARK_WIDTH.get(wl, 2),
                                 dash="7.7px,3.3px"), layer="above"))

annotations = []
for lab, yv in zip(epochs, label_y):
    annotations.append(dict(x=label_x, y=yv, xref="x", yref="y", text=lab, showarrow=False,
                            xanchor="left", yanchor="middle", font=dict(size=12, color="black", family=FONT)))
annotations.append(dict(x=7572, y=22.97, xref="x", yref="y", text="Telluric", textangle=-90, showarrow=False,
                        font=dict(size=12, color="#999999", family=FONT)))
annotations.append(dict(x=px(249), y=py(78), xref="paper", yref="paper", text="Telescope", showarrow=False,
                        xanchor="center", yanchor="middle", font=dict(size=13.4, color="black", family=FONT)))
annotations.append(dict(x=px(672), y=py(56), xref="paper", yref="paper", text="Ions", showarrow=False,
                        xanchor="center", yanchor="middle", font=dict(size=13.4, color="black", family=FONT)))
annotations.append(dict(x=px(978), y=py(13), xref="paper", yref="paper", text="11", showarrow=False,
                        xanchor="center", yanchor="middle", font=dict(size=17, color="black", family="DejaVu Serif")))

legend_common = dict(bgcolor="rgba(0,0,0,0)", borderwidth=0, font=dict(size=13.3, family=FONT, color="black"),
                     xanchor="left", yanchor="top", xref="paper", yref="paper", tracegroupgap=0)
layout_legends = {}
for key, lx in zip(tel_legend_keys, [106, 218, 316]):
    layout_legends[key] = dict(orientation="v", x=px(lx), y=py(83), **legend_common)
col_x = [408, 500, 596, 688, 779, 871]
for ci, cx in enumerate(col_x):
    layout_legends[f"legend{ci + 2}"] = dict(orientation="v", x=px(cx - 4), y=py(60), **legend_common)

fig.update_layout(
    width=W, height=H, margin=dict(l=ML, r=MR, t=MT, b=MB, pad=0, autoexpand=False),
    paper_bgcolor="white", plot_bgcolor="white",
    font=dict(family=FONT, color="black"),
    shapes=shapes, annotations=annotations,
    xaxis=dict(range=[3800, 9000], tickvals=[4000, 5000, 6000, 7000, 8000], ticks="outside", ticklen=5,
               tickwidth=1, tickcolor="black", showline=True, linecolor="black", linewidth=1, mirror=True,
               showgrid=False, zeroline=False, tickfont=dict(size=13.3, family=FONT), automargin=False,
               title=dict(text="Rest Wavelength / Å", font=dict(size=17.5, family=FONT), standoff=8)),
    yaxis=dict(range=[0, 26], tickvals=[0, 5, 10, 15, 20, 25], ticks="outside", ticklen=5,
               tickwidth=1, tickcolor="black", showline=True, linecolor="black", linewidth=1, mirror=True,
               showgrid=False, zeroline=False, tickfont=dict(size=13.3, family=FONT), automargin=False,
               title=dict(text="Normalized Flux Density + Offset", font=dict(size=17.5, family=FONT), standoff=10)),
    **layout_legends,
)

fig.write_html("out.html")
